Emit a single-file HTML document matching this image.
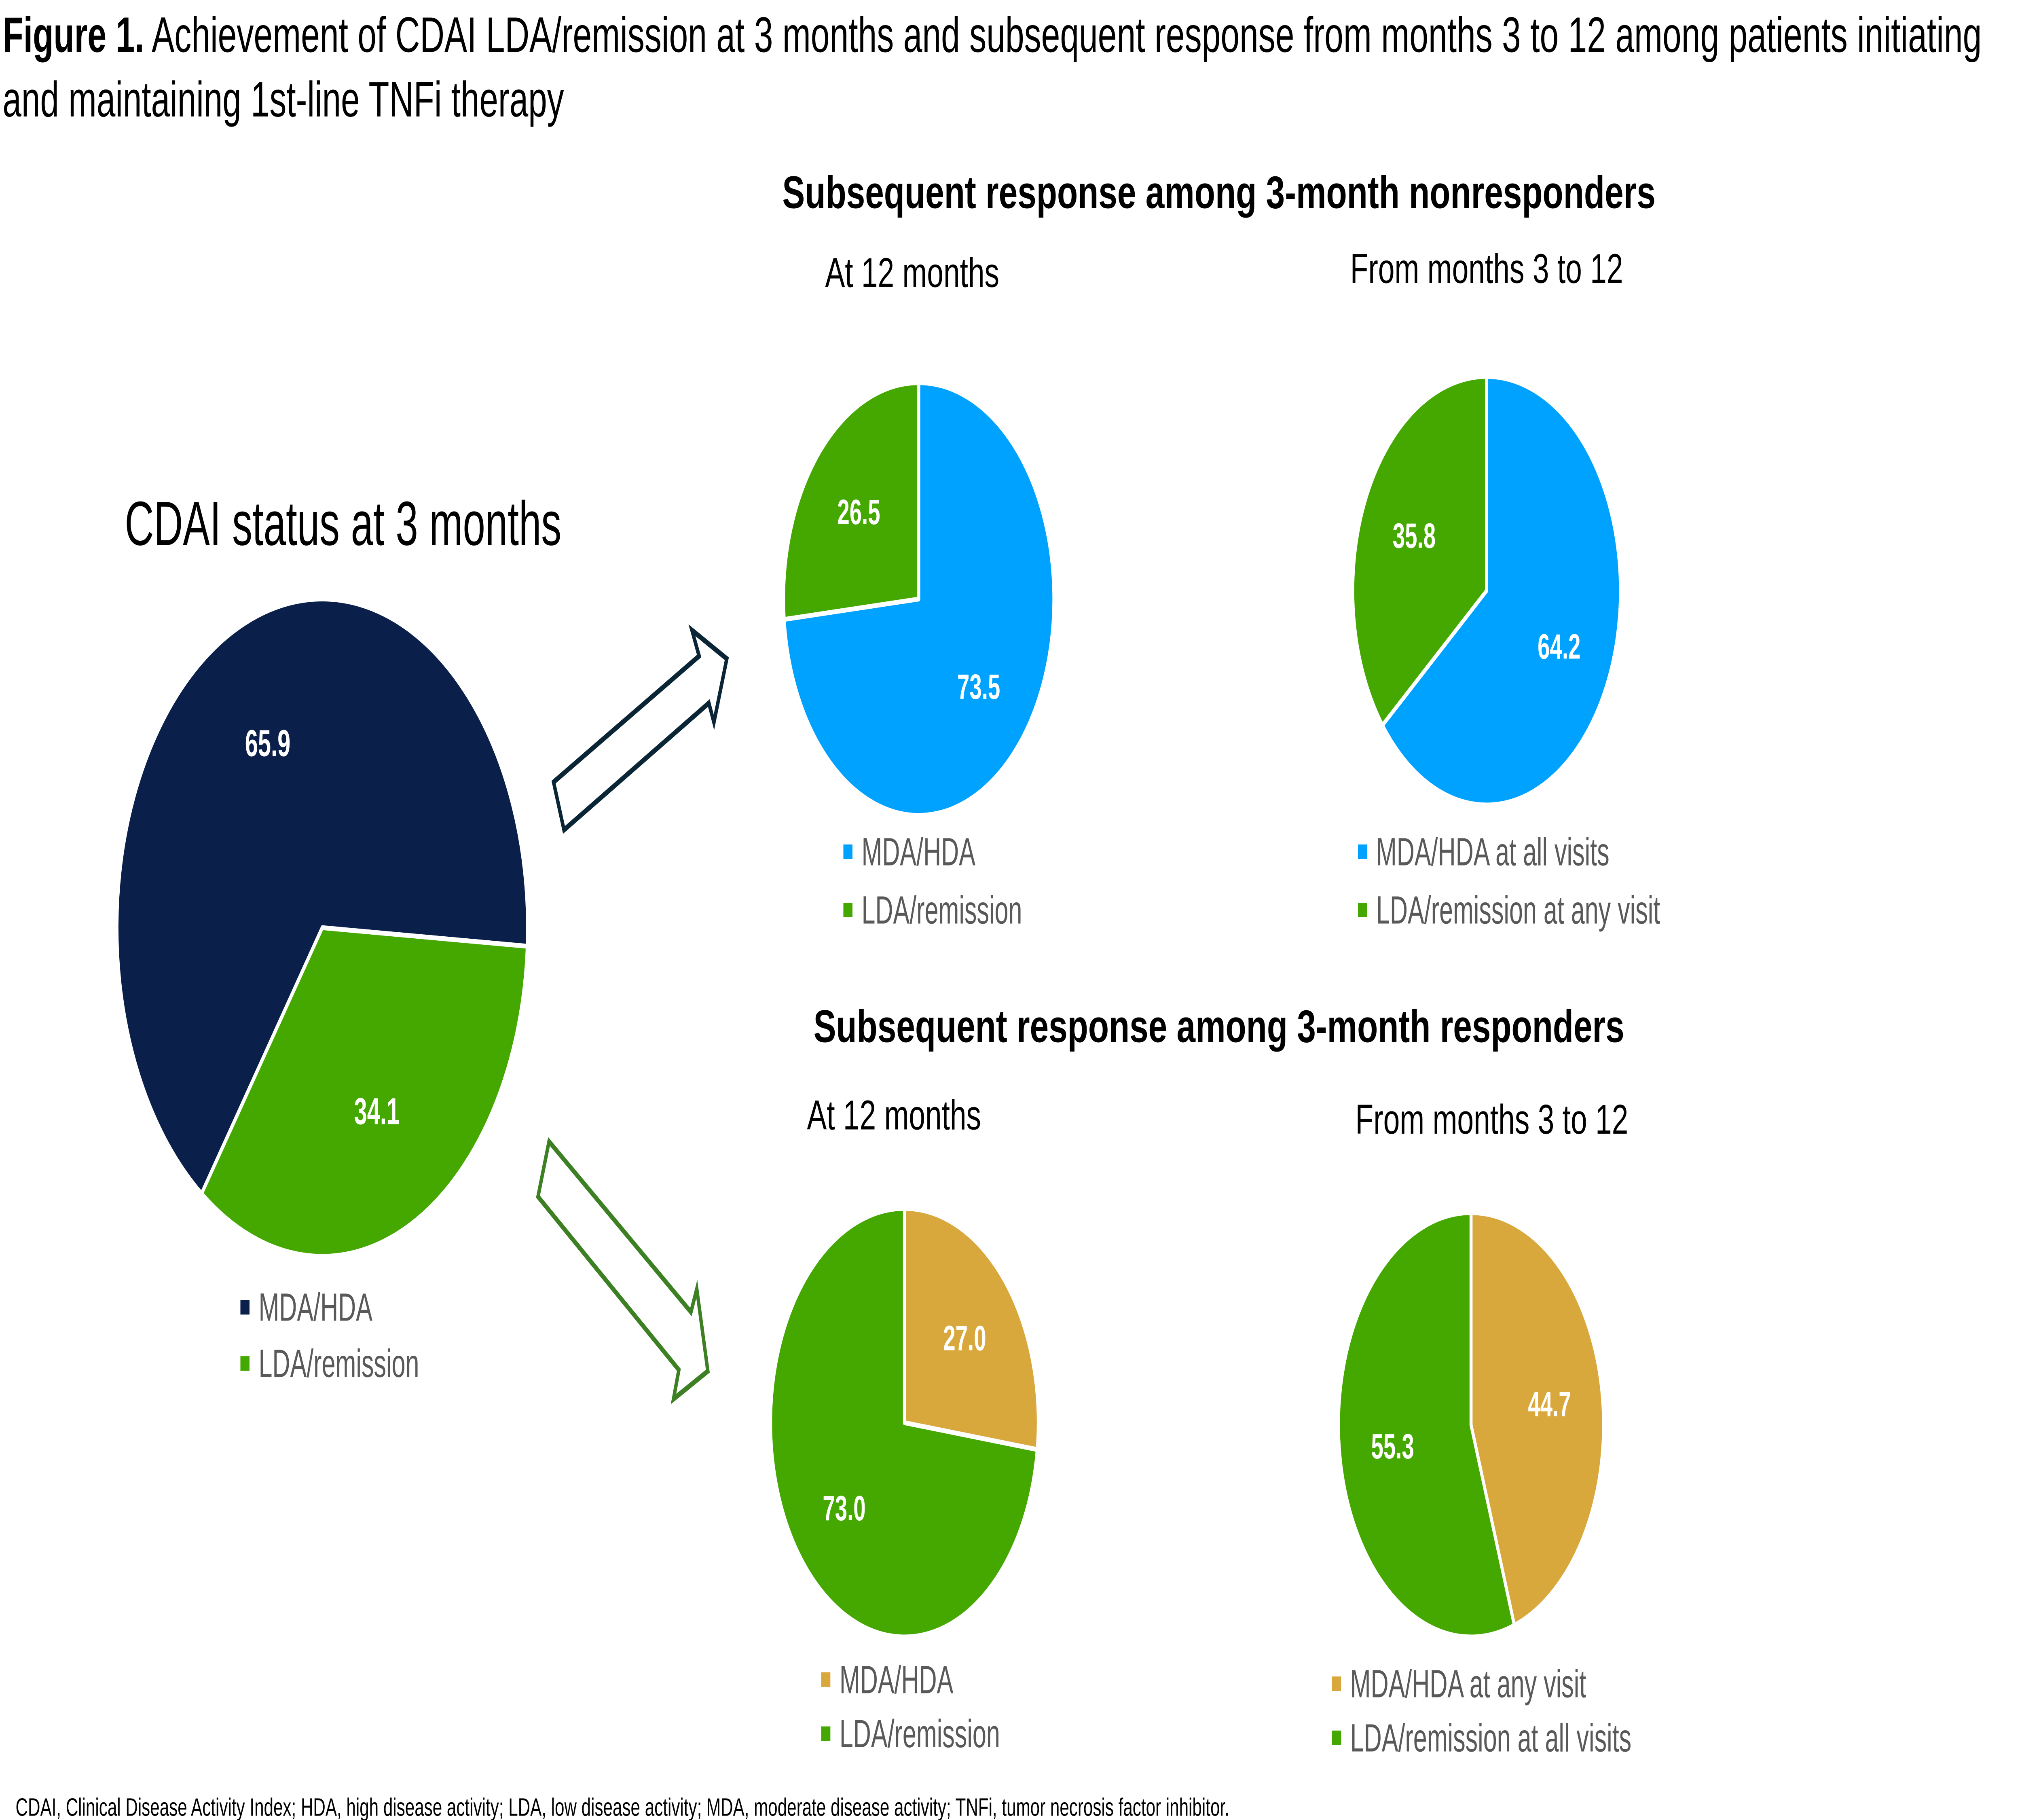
<!DOCTYPE html>
<html><head><meta charset="utf-8"><style>
html,body{margin:0;padding:0;background:#fff;overflow:hidden;}
svg{display:block;position:absolute;left:0;top:0;width:100vw;height:100vh;}
text{font-family:"Liberation Sans",Arial,sans-serif;}
</style></head><body>
<svg id="fig" viewBox="0 0 1556 875" preserveAspectRatio="none" xmlns="http://www.w3.org/2000/svg">
<text x="2" y="25" font-size="24" fill="#000" textLength="1523" lengthAdjust="spacingAndGlyphs"><tspan font-weight="bold">Figure 1.</tspan> Achievement of CDAI LDA/remission at 3 months and subsequent response from months 3 to 12 among patients initiating</text>
<text x="2" y="56" font-size="24" fill="#000" textLength="432" lengthAdjust="spacingAndGlyphs">and maintaining 1st-line TNFi therapy</text>

<text x="938" y="100" font-size="22" font-weight="bold" text-anchor="middle" fill="#000" textLength="672" lengthAdjust="spacingAndGlyphs">Subsequent response among 3-month nonresponders</text>
<text x="938" y="501" font-size="22" font-weight="bold" text-anchor="middle" fill="#000" textLength="624" lengthAdjust="spacingAndGlyphs">Subsequent response among 3-month responders</text>

<text x="264" y="262" font-size="30" text-anchor="middle" fill="#000" textLength="336" lengthAdjust="spacingAndGlyphs">CDAI status at 3 months</text>
<text x="702" y="138" font-size="20" text-anchor="middle" fill="#000" textLength="134" lengthAdjust="spacingAndGlyphs">At 12 months</text>
<text x="1144" y="136" font-size="20" text-anchor="middle" fill="#000" textLength="210" lengthAdjust="spacingAndGlyphs">From months 3 to 12</text>
<text x="688" y="543" font-size="20" text-anchor="middle" fill="#000" textLength="134" lengthAdjust="spacingAndGlyphs">At 12 months</text>
<text x="1148" y="545" font-size="20" text-anchor="middle" fill="#000" textLength="210" lengthAdjust="spacingAndGlyphs">From months 3 to 12</text>

<polygon points="426,376 434,399 545.5,338 549.4,347.3 559.3,316.7 532.5,303 538,315.4" fill="#fff" stroke="#0a2535" stroke-width="2.6"/>
<polygon points="422.5,548.8 414,575.3 522.4,658.6 518.3,672.6 544.7,659.2 536.2,619.7 531.7,630.8" fill="#fff" stroke="#3d8024" stroke-width="2.6"/>

<g id="pies"></g>

<text x="12" y="873" font-size="12" fill="#000" textLength="934" lengthAdjust="spacingAndGlyphs">CDAI, Clinical Disease Activity Index; HDA, high disease activity; LDA, low disease activity; MDA, moderate disease activity; TNFi, tumor necrosis factor inhibitor.</text>
</svg>
<script>
// Data
const bigValues = [65.9, 34.1];
const bigLabels = ["MDA/HDA", "LDA/remission"];
const nr12Values = [73.5, 26.5];
const nr12Labels = ["MDA/HDA", "LDA/remission"];
const nr312Values = [64.2, 35.8];
const nr312Labels = ["MDA/HDA at all visits", "LDA/remission at any visit"];
const r12Values = [27.0, 73.0];
const r12Labels = ["MDA/HDA", "LDA/remission"];
const r312Values = [44.7, 55.3];
const r312Labels = ["MDA/HDA at any visit", "LDA/remission at all visits"];

const NS = "http://www.w3.org/2000/svg";
const g = document.getElementById('pies');
const NAVY = "#0a1f4a", GREEN = "#45a800", BLUE = "#00a2ff", GOLD = "#d9a83c";

function pt(cx, cy, r, deg) {
  const a = deg * Math.PI / 180;
  return [cx + r * Math.sin(a), cy - r * Math.cos(a)];
}

function drawPie(key, values, labels, colors, cx, cy, r, rot, labelR, legX, legY, legGap, fs) {
  const total = values.reduce((s, v) => s + v, 0);
  let ang = rot;
  values.forEach((v, i) => {
    const span = v / total * 360;
    const p0 = pt(cx, cy, r, ang), p1 = pt(cx, cy, r, ang + span);
    const path = document.createElementNS(NS, 'path');
    path.setAttribute('d', `M${cx},${cy} L${p0[0]},${p0[1]} A${r},${r} 0 ${span > 180 ? 1 : 0} 1 ${p1[0]},${p1[1]} Z`);
    path.setAttribute('fill', colors[i]);
    path.setAttribute('stroke', '#fff');
    path.setAttribute('stroke-width', '2.3');
    path.setAttribute('stroke-linejoin', 'round');
    
    
    g.appendChild(path);
    const mid = ang + span / 2;
    const lp = pt(cx, cy, r * labelR, mid);
    const t = document.createElementNS(NS, 'text');
    t.setAttribute('x', lp[0]); t.setAttribute('y', lp[1] + 6);
    t.setAttribute('text-anchor', 'middle');
    t.setAttribute('font-size', fs);
    t.setAttribute('font-weight', 'bold');
    t.setAttribute('fill', '#fff');
    t.textContent = v.toFixed(1);
    
    
    g.appendChild(t);
    ang += span;
  });
  labels.forEach((lab, i) => {
    const y = legY + i * legGap;
    const sq = document.createElementNS(NS, 'rect');
    sq.setAttribute('x', legX); sq.setAttribute('y', y - 10);
    sq.setAttribute('width', 7); sq.setAttribute('height', 7);
    sq.setAttribute('fill', colors[i]);
    
    
    g.appendChild(sq);
    const t = document.createElementNS(NS, 'text');
    t.setAttribute('x', legX + 14); t.setAttribute('y', y);
    t.setAttribute('font-size', 19);
    t.setAttribute('fill', '#595959');
    t.textContent = lab;
    
    
    g.appendChild(t);
  });
}

drawPie('big-pie', bigValues, bigLabels, [NAVY, GREEN], 248, 446, 158, 216, 0.62, 185, 635, 27, 18);
drawPie('nr-12m-pie', nr12Values, nr12Labels, [BLUE, GREEN], 707, 288, 104, 0, 0.6, 649, 416, 28, 17);
drawPie('nr-3to12-pie', nr312Values, nr312Labels, [BLUE, GREEN], 1144, 284, 103, 0, 0.6, 1045, 416, 28, 17);
drawPie('r-12m-pie', r12Values, r12Labels, [GOLD, GREEN], 696, 684, 103, 0, 0.6, 632, 814, 26, 17);
drawPie('r-3to12-pie', r312Values, r312Labels, [GOLD, GREEN], 1132, 685, 102, 0, 0.6, 1025, 816, 26, 17);
</script>
</body></html>
